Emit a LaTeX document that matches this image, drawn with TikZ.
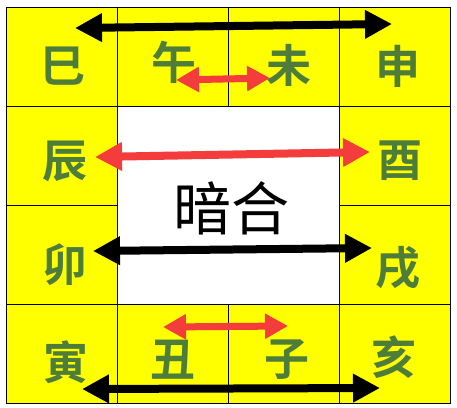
\documentclass[tikz,border=0pt]{standalone}
\usepackage{fontspec}
\newfontfamily\cjk[BoldFont={* Bold}]{Noto Sans CJK SC}
\usetikzlibrary{arrows.meta}
\definecolor{cellyellow}{HTML}{FFFF00}
\definecolor{zhigreen}{HTML}{4E7D3A}
\definecolor{arrred}{HTML}{F43C3C}
\tikzset{
  cell/.style={draw=black, line width=0.8pt, fill=cellyellow, minimum width=111pt, minimum height=99pt, inner sep=0pt, anchor=north west},
  zhi/.style={text=zhigreen, font=\cjk\bfseries\fontsize{45}{45}\selectfont, inner sep=0pt},
  bigarrow/.style={line width=8pt, {Triangle[length=27pt,width=27pt]}-{Triangle[length=27pt,width=27pt]}},
  blackarrow/.style={bigarrow, draw=black},
  redarrow/.style={bigarrow, draw=arrred},
  smallred/.style={line width=7pt, draw=arrred, {Triangle[length=23pt,width=24pt]}-{Triangle[length=23pt,width=24pt]}},
}
\begin{document}
\begin{tikzpicture}[x=1pt,y=-1pt]
\useasboundingbox (0,0) rectangle (457,407);
\fill[white] (0,0) rectangle (457,407);
% cells
\node[cell] (c11) at (6,7) {};
\node[cell] (c12) at (117,7) {};
\node[cell] (c13) at (228,7) {};
\node[cell] (c14) at (339,7) {};
\node[cell] (c21) at (6,106) {};
\node[cell] (c24) at (339,106) {};
\node[cell] (c31) at (6,205) {};
\node[cell] (c34) at (339,205) {};
\node[cell] (c41) at (6,304) {};
\node[cell] (c42) at (117,304) {};
\node[cell] (c43) at (228,304) {};
\node[cell] (c44) at (339,304) {};
\node[draw=black, line width=0.8pt, fill=white, minimum width=222pt, minimum height=198pt, inner sep=0pt, anchor=north west] (center) at (117,106) {};
% branches
\node[zhi] (si) at (63,66) {巳};
\node[zhi] (wu) at (174,62) {午};
\node[zhi] (wei) at (289,65) {未};
\node[zhi] (shen) at (398,66) {申};
\node[zhi] (chen) at (65,161) {辰};
\node[zhi] (you) at (400,161) {酉};
\node[zhi] (mao) at (65,265) {卯};
\node[zhi] (xu) at (398,268) {戌};
\node[zhi] (yin) at (66,362) {寅};
\node[zhi] (chou) at (173,360) {丑};
\node[zhi] (zi) at (287,360) {子};
\node[zhi] (hai) at (394,357) {亥};
\node[font=\cjk\fontsize{58}{58}\selectfont, inner sep=0pt] (anhe) at (231,208) {暗合};
% arrow ends
\coordinate (a1l) at (75,28);
\coordinate (a1r) at (392,24);
\coordinate (a2l) at (176,80);
\coordinate (a2r) at (270,78);
\coordinate (a3l) at (95,157);
\coordinate (a3r) at (370,152);
\coordinate (a4l) at (93,251);
\coordinate (a4r) at (372,248);
\coordinate (a5l) at (163,327);
\coordinate (a5r) at (288,326);
\coordinate (a6l) at (82,389);
\coordinate (a6r) at (380,388);
\draw[blackarrow] (a1l) -- (a1r);
\draw[smallred] (a2l) -- (a2r);
\draw[redarrow] (a3l) -- (a3r);
\draw[blackarrow] (a4l) -- (a4r);
\draw[smallred] (a5l) -- (a5r);
\draw[blackarrow] (a6l) -- (a6r);
\end{tikzpicture}
\end{document}
